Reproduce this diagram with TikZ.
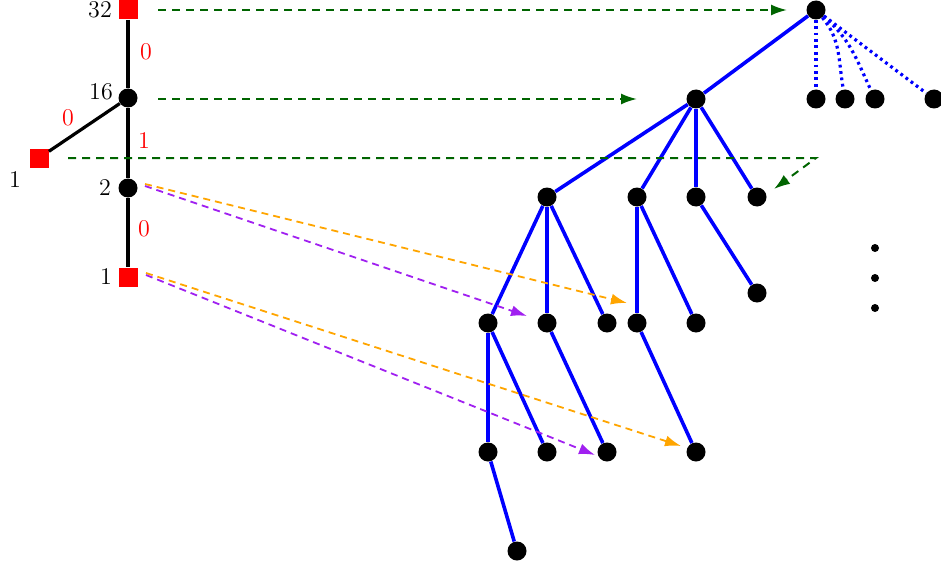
\documentclass[tikz,border=0pt]{standalone}
\usetikzlibrary{arrows.meta}
\definecolor{dkgreen}{RGB}{0,100,0}
\definecolor{myorange}{RGB}{255,165,0}
\definecolor{mypurple}{RGB}{160,32,240}
\tikzset{
  dot/.style={circle,fill=black,inner sep=0pt,minimum size=9.5pt},
  sq/.style={rectangle,fill=red,inner sep=0pt,minimum size=9.5pt},
  lbl/.style={font=\fontsize{12}{14}\selectfont,inner sep=0pt},
  rlbl/.style={lbl,text=red},
  blk/.style={line width=1.6pt,black},
  blu/.style={line width=1.8pt,blue},
  bdot/.style={line width=1.6pt,blue,dash pattern=on 1.4pt off 1.8pt},
  garrow/.style={dkgreen,line width=1pt,dash pattern=on 4pt off 3pt,-{Latex[length=8pt,width=5.5pt]}},
  oarrow/.style={myorange,line width=0.9pt,dash pattern=on 3.5pt off 2.5pt,-{Latex[length=8pt,width=5.5pt]}},
  parrow/.style={mypurple,line width=0.9pt,dash pattern=on 3.5pt off 2.5pt,-{Latex[length=8pt,width=5.5pt]}},
}
\begin{document}
\begin{tikzpicture}[x=0.5pt,y=-0.5pt]
\useasboundingbox (0,0) rectangle (941,567);
% left tree
\node[sq] (r32) at (128,10) {};
\node[dot] (n16) at (128,98) {};
\node[sq] (l1) at (39,158) {};
\node[dot] (n2) at (128,188) {};
\node[sq] (b1) at (128,277) {};
\node[lbl] (t32) at (100,10) {32};
\node[lbl] (t16) at (101,92) {16};
\node[lbl] (tl1) at (15,180) {1};
\node[lbl] (t2) at (105,188) {2};
\node[lbl] (tb1) at (106,277) {1};
\draw[blk] (r32) -- (n16);
\draw[blk] (n16) -- (l1);
\draw[blk] (n16) -- (n2);
\draw[blk] (n2) -- (b1);
\node[rlbl] (e1) at (146,52) {0};
\node[rlbl] (e2) at (68,118) {0};
\node[rlbl] (e3) at (144,141) {1};
\node[rlbl] (e4) at (144,229) {0};
% right tree
\node[dot] (R) at (816,10) {};
\node[dot] (c1) at (816,99) {};
\node[dot] (c2) at (845,99) {};
\node[dot] (c3) at (875,99) {};
\node[dot] (c4) at (934,99) {};
\node[dot] (A) at (696,99) {};
\node[dot] (B) at (547,197) {};
\node[dot] (C) at (637,197) {};
\node[dot] (D) at (696,197) {};
\node[dot] (E) at (757,197) {};
\node[dot] (F) at (488,323) {};
\node[dot] (G) at (547,323) {};
\node[dot] (H) at (607,323) {};
\node[dot] (I) at (637,323) {};
\node[dot] (J) at (696,323) {};
\node[dot] (K) at (757,293) {};
\node[dot] (L) at (488,452) {};
\node[dot] (M) at (547,452) {};
\node[dot] (N) at (607,452) {};
\node[dot] (O) at (696,452) {};
\node[dot] (P) at (517,551) {};
\node[circle,fill=black,inner sep=0pt,minimum size=4pt] (v1) at (875,248) {};
\node[circle,fill=black,inner sep=0pt,minimum size=4pt] (v2) at (875,278) {};
\node[circle,fill=black,inner sep=0pt,minimum size=4pt] (v3) at (875,308) {};
\draw[blu] (R) -- (A);
\draw[bdot] (R) -- (c1);
\draw[bdot] (R) to[out=-50,in=100] (c2);
\draw[bdot] (R) to[out=-40,in=115] (c3);
\draw[bdot] (R) -- (c4);
\foreach \u/\v in {A/B,A/C,A/D,A/E,B/F,B/G,B/H,C/I,C/J,D/K,F/L,F/M,G/N,I/O,L/P}
  \draw[blu] (\u) -- (\v);
% green arrows
\coordinate (g1s) at (158,10);
\coordinate (g1e) at (787,10);
\coordinate (g2s) at (158,99);
\coordinate (g2e) at (637,99);
\coordinate (g3s) at (68,158);
\coordinate (g3m) at (816,158);
\coordinate (g3e) at (774,189);
\draw[garrow] (g1s) -- (g1e);
\draw[garrow] (g2s) -- (g2e);
\draw[garrow] (g3s) -- (g3m) -- (g3e);
% orange and purple arrows
\coordinate (s2o) at (145,184);
\coordinate (s2p) at (145,186);
\coordinate (s1o) at (146,273);
\coordinate (s1p) at (146,275);
\coordinate (o1e) at (627,303);
\coordinate (p1e) at (527,316);
\coordinate (o2e) at (681,446);
\coordinate (p2e) at (595,455);
\draw[oarrow] (s2o) -- (o1e);
\draw[parrow] (s2p) -- (p1e);
\draw[oarrow] (s1o) -- (o2e);
\draw[parrow] (s1p) -- (p2e);
\end{tikzpicture}
\end{document}
